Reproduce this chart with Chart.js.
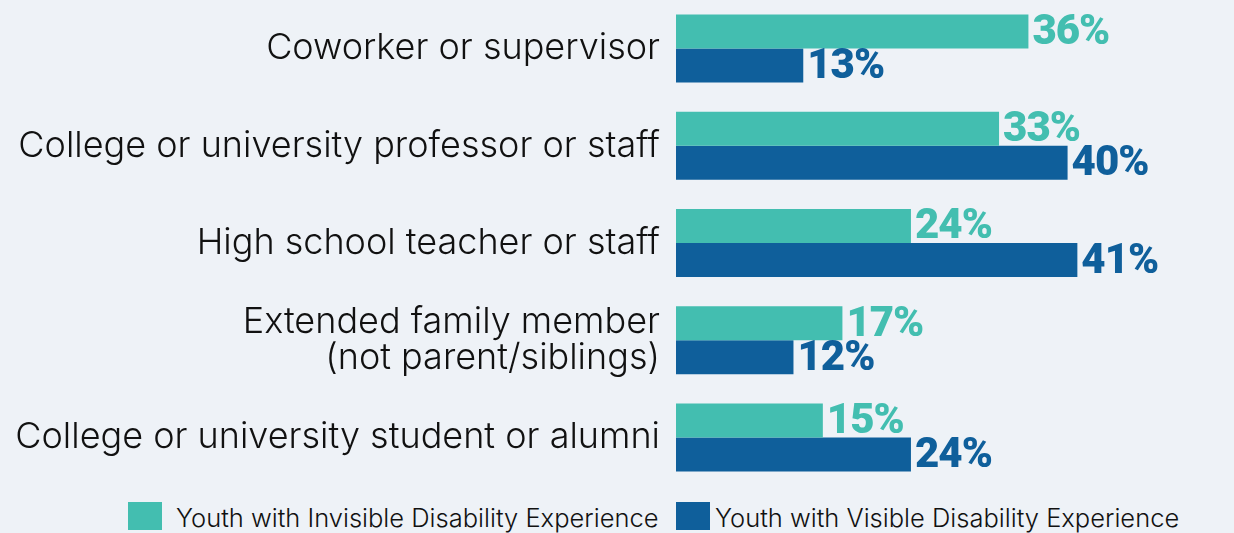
<!DOCTYPE html>
<html>
<head>
<meta charset="utf-8">
<script src="https://cdn.jsdelivr.net/npm/chart.js@4.4.1/dist/chart.umd.min.js"></script>
<style>
  html, body { margin: 0; padding: 0; background: #eef2f7; }
  #wrap { position: relative; width: 1234px; height: 533px; }
  #chart { position: absolute; left: 0; top: 0; }
  #legend { position: absolute; left: 0; top: 502px; width: 1234px; height: 31px; font-family: Inter, sans-serif; font-weight: 300; font-size: 25.5px; color: #111; }
  .item { position: absolute; top: 0; display: flex; align-items: flex-end; }
  .swatch { display: inline-block; width: 34px; height: 28px; margin-right: 14px; }
</style>
</head>
<body>
<div id="wrap">
  <canvas id="chart" width="1234" height="486"></canvas>
  <div id="legend"></div>
</div>
<script>
const categories = [
  'Coworker or supervisor',
  'College or university professor or staff',
  'High school teacher or staff',
  ['Extended family member', '(not parent/siblings)'],
  'College or university student or alumni'
];
const invisible = [36, 33, 24, 17, 15];
const visible = [13, 40, 41, 12, 24];
const seriesNames = ['Youth with Invisible Disability Experience', 'Youth with Visible Disability Experience'];
const colors = ['#43beb0', '#0f5f9b'];

// percent labels drawn just past the end of each bar
const valueLabels = {
  id: 'valueLabels',
  afterDatasetsDraw(chart) {
    const ctx = chart.ctx;
    ctx.save();
    ctx.font = '900 42px Roboto, sans-serif';
    ctx.letterSpacing = '-1px';
    ctx.textBaseline = 'middle';
    ctx.textAlign = 'left';
    chart.data.datasets.forEach((ds, i) => {
      ctx.fillStyle = ds.backgroundColor;
      chart.getDatasetMeta(i).data.forEach((bar, j) => {
        ctx.fillText(ds.data[j] + '%', bar.x + 4, bar.y + 2);
      });
    });
    ctx.restore();
  }
};

new Chart(document.getElementById('chart'), {
  type: 'bar',
  data: {
    labels: categories,
    datasets: [
      { label: seriesNames[0], data: invisible, backgroundColor: colors[0] },
      { label: seriesNames[1], data: visible, backgroundColor: colors[1] }
    ]
  },
  options: {
    indexAxis: 'y',
    responsive: false,
    animation: false,
    devicePixelRatio: 1,
    categoryPercentage: 0.7,
    barPercentage: 1.0,
    layout: { padding: 0 },
    plugins: { legend: { display: false }, tooltip: { enabled: false } },
    scales: {
      x: { display: false, min: 0, max: 57 },
      y: {
        // fixed label column, no extra top/bottom padding
        afterFit: s => { s.width = 676; s.paddingTop = 0; s.paddingBottom = 0; },
        grid: { display: false, drawTicks: false },
        border: { display: false },
        ticks: { padding: 16, color: '#111', font: { family: 'Inter', weight: 300, size: 36, lineHeight: 1.0 } }
      }
    }
  },
  plugins: [valueLabels]
});

// legend row under the chart
const legend = document.getElementById('legend');
const lefts = [128, 676];
seriesNames.forEach((name, i) => {
  const el = document.createElement('div');
  el.className = 'item';
  el.style.left = lefts[i] + 'px';
  el.innerHTML = `<span class="swatch" style="background:${colors[i]};${i ? 'margin-right:5px' : ''}"></span><span style="line-height:25px">${name}</span>`;
  legend.appendChild(el);
});
</script>
</body>
</html>
